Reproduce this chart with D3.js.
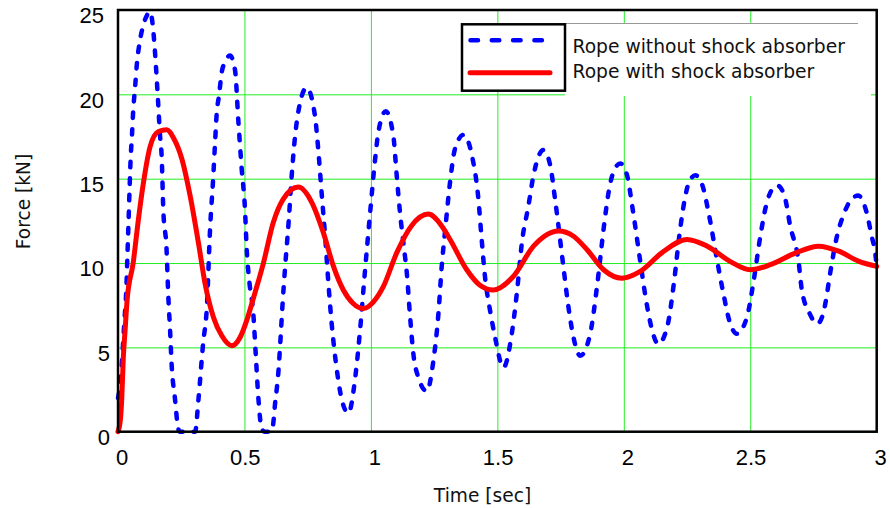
<!DOCTYPE html>
<html>
<head>
<meta charset="utf-8">
<script src="https://cdn.jsdelivr.net/npm/d3@7"></script>
<style>
  html, body { margin: 0; padding: 0; background: #fff; }
  svg { display: block; }
</style>
</head>
<body>
<svg id="chart" width="890" height="508"></svg>
<script>
// ---- data ----
const seriesNames = ["Rope without shock absorber", "Rope with shock absorber"];
const xTicks = [0, 0.5, 1, 1.5, 2, 2.5, 3];
const yTicks = [0, 5, 10, 15, 20, 25];
const xTitle = "Time [sec]";
const yTitle = "Force [kN]";

const noAbsorberTime = [
  0, 0.01, 0.025, 0.033, 0.038, 0.042, 0.046, 0.05, 0.055, 0.06, 0.068, 0.074, 0.087, 0.1, 0.115, 0.127,
  0.14, 0.149, 0.158, 0.166, 0.173, 0.179, 0.192, 0.199, 0.206, 0.212, 0.225, 0.238, 0.245, 0.305,
  0.318, 0.337, 0.351, 0.364, 0.377, 0.384, 0.39, 0.4, 0.41, 0.423, 0.443,
  0.463, 0.476, 0.489, 0.502, 0.509, 0.52, 0.535, 0.545, 0.555, 0.568, 0.58, 0.605,
  0.614, 0.62, 0.634, 0.643, 0.65, 0.66, 0.675, 0.686, 0.7, 0.72, 0.746,
  0.779, 0.792, 0.806, 0.819, 0.832, 0.845, 0.865, 0.885, 0.911,
  0.938, 0.957, 0.977, 0.997, 1.017, 1.03, 1.059,
  1.089, 1.102, 1.115, 1.13, 1.142, 1.155, 1.168, 1.188, 1.221,
  1.247, 1.267, 1.28, 1.294, 1.313, 1.333, 1.366,
  1.399, 1.425, 1.438, 1.451, 1.471, 1.491, 1.524,
  1.557, 1.577, 1.597, 1.623, 1.643, 1.682,
  1.709, 1.728, 1.761, 1.781, 1.801, 1.828,
  1.867, 1.894, 1.92, 1.94, 1.959, 1.986,
  2.013, 2.034, 2.067, 2.088, 2.109, 2.136,
  2.173, 2.198, 2.221, 2.24, 2.258, 2.283,
  2.313, 2.335, 2.372, 2.395, 2.417, 2.447,
  2.487, 2.514, 2.54, 2.561, 2.58, 2.607,
  2.635, 2.658, 2.691, 2.704, 2.735, 2.765,
  2.784, 2.797, 2.816, 2.843, 2.87, 2.896, 2.927,
  2.96, 2.98, 2.995, 3.0
];
const noAbsorberForce = [
  2.0, 3.0, 6.5, 8.5, 10.8, 12.6, 14.5, 16.2, 17.5, 19.0, 20.5, 21.7, 23.2, 24.1, 24.7, 24.9,
  23.7, 21.9, 19.7, 17.6, 16.2, 13.2, 10.8, 8.0, 6.0, 4.0, 2.0, 0.2, 0, 0,
  1.9, 5.3, 7.3, 12.0, 15.2, 17.2, 18.8, 20.0, 21.3, 21.9, 22.3,
  21.4, 18.4, 15.6, 13.2, 10.8, 8.8, 7.0, 4.5, 2.0, 0.2, 0, 0,
  0.5, 1.5, 3.5, 5.6, 7.4, 9.6, 12.5, 15.0, 17.5, 19.5, 20.4,
  18.7, 16.7, 14.0, 11.6, 8.8, 6.4, 3.7, 1.9, 1.1,
  3.2, 6.0, 9.6, 13.0, 16.2, 17.8, 19.0,
  17.5, 15.2, 13.0, 11.0, 9.4, 6.8, 4.6, 3.2, 2.4,
  4.2, 7.0, 9.8, 12.0, 14.8, 16.8, 17.6,
  16.4, 13.8, 11.4, 9.2, 7.2, 5.6, 3.8,
  5.8, 8.2, 11.2, 13.4, 15.2, 16.7,
  15.8, 13.8, 9.8, 7.4, 5.6, 4.5,
  5.8, 8.6, 12.0, 14.2, 15.4, 15.9,
  15.2, 13.3, 9.9, 7.8, 6.2, 5.2,
  6.3, 8.8, 11.8, 13.7, 14.8, 15.2,
  14.5, 13.0, 9.9, 8.1, 6.6, 5.8,
  6.8, 9.0, 11.6, 13.3, 14.2, 14.6,
  14.0, 12.2, 10.1, 8.4, 7.0, 6.4,
  6.8, 7.6, 9.4, 11.6, 12.9, 13.7, 14.0,
  13.0, 11.6, 10.5, 9.8
];

const absorberTime = [
  0, 0.01, 0.015, 0.021, 0.028, 0.036, 0.06, 0.08, 0.1, 0.127, 0.16, 0.193, 0.22, 0.252, 0.285, 0.318,
  0.344, 0.377, 0.41, 0.45, 0.483, 0.509, 0.535, 0.575, 0.614, 0.654, 0.713, 0.766, 0.812, 0.852,
  0.891, 0.93, 0.97, 1.01, 1.049, 1.102, 1.16, 1.227, 1.28, 1.313, 1.379, 1.43, 1.484, 1.563,
  1.643, 1.742, 1.8, 1.854, 1.92, 1.992, 2.065, 2.15, 2.25, 2.33, 2.42, 2.5, 2.58, 2.68, 2.77,
  2.85, 2.93, 3.0
];
const absorberForce = [
  0, 0.8, 2.0, 4.4, 6.0, 7.8, 10.0, 12.5, 14.7, 16.9, 17.8, 17.9, 17.4, 16.2, 14.0, 11.2,
  8.8, 6.8, 5.7, 5.1, 5.6, 6.6, 7.9, 10.0, 12.4, 13.8, 14.5, 13.6, 11.8, 9.8,
  8.4, 7.6, 7.3, 7.7, 8.6, 10.6, 12.2, 12.9, 12.2, 11.4, 9.6, 8.7, 8.4, 9.2,
  11.0, 11.9, 11.6, 10.8, 9.6, 9.1, 9.5, 10.6, 11.4, 11.0, 10.1, 9.6, 9.9, 10.6, 11.0,
  10.7, 10.1, 9.8
];

// ---- layout ----
const svg = d3.select("#chart");
const plot = { left: 118, right: 876.7, top: 10, bottom: 431.7 };
const x = d3.scaleLinear().domain([0, 3]).range([plot.left, plot.right]);
const y = d3.scaleLinear().domain([0, 25]).range([plot.bottom, plot.top]);

const tickFont = "'Liberation Sans', Arial, sans-serif";
const textFont = "'DejaVu Sans', Verdana, sans-serif";
const grid = "#22ee22";

// gridlines via axes
svg.append("g")
  .attr("transform", `translate(0,${plot.bottom})`)
  .call(d3.axisBottom(x).tickValues(xTicks).tickSize(-(plot.bottom - plot.top)).tickFormat(""))
  .call(g => g.select(".domain").remove())
  .call(g => g.selectAll("line").attr("stroke", grid).attr("stroke-width", 1));
svg.append("g")
  .attr("transform", `translate(${plot.left},0)`)
  .call(d3.axisLeft(y).tickValues(yTicks).tickSize(-(plot.right - plot.left)).tickFormat(""))
  .call(g => g.select(".domain").remove())
  .call(g => g.selectAll("line").attr("stroke", grid).attr("stroke-width", 1));

// tick labels
svg.append("g").selectAll("text").data(xTicks).join("text")
  .attr("x", d => x(d) + (Number.isInteger(d) ? 4 : 0.8))
  .attr("y", 465)
  .attr("text-anchor", "middle")
  .attr("font-family", tickFont).attr("font-size", 22).attr("fill", "#000")
  .text(d => String(d));
svg.append("g").selectAll("text").data(yTicks).join("text")
  .attr("x", d => String(d).length === 1 ? 110 : 104)
  .attr("y", d => y(d) + 5.5)
  .attr("dy", "0.36em")
  .attr("text-anchor", "end")
  .attr("font-family", tickFont).attr("font-size", 22).attr("fill", "#000")
  .text(d => String(d));

// axis titles
svg.append("text")
  .attr("x", 482.5).attr("y", 502)
  .attr("text-anchor", "middle")
  .attr("font-family", textFont).attr("font-size", 18.6).attr("fill", "#111")
  .text(xTitle);
svg.append("text")
  .attr("transform", "translate(30,201.5) rotate(-90)")
  .attr("text-anchor", "middle")
  .attr("font-family", textFont).attr("font-size", 18.6).attr("fill", "#111")
  .text(yTitle);

// white patch at the right of the legend (covers grid)
svg.append("rect")
  .attr("x", 565).attr("y", 23).attr("width", 871 - 565).attr("height", 96 - 23)
  .attr("fill", "#fff");
svg.append("line")
  .attr("x1", 565).attr("x2", 858).attr("y1", 23.5).attr("y2", 23.5)
  .attr("stroke", "#999").attr("stroke-width", 1);

// curves
const blueData = noAbsorberTime.map((t, i) => [t, noAbsorberForce[i]]);
const redData = absorberTime.map((t, i) => [t, absorberForce[i]]);
const line = d3.line().x(d => x(d[0])).y(d => y(d[1])).curve(d3.curveMonotoneX);

svg.append("path")
  .datum(blueData)
  .attr("d", line)
  .attr("fill", "none")
  .attr("stroke", "#0000ff")
  .attr("stroke-width", 4.5)
  .attr("stroke-linecap", "round")
  .attr("stroke-linejoin", "round")
  .attr("stroke-dasharray", "5.5 11");

svg.append("path")
  .datum(redData)
  .attr("d", line)
  .attr("fill", "none")
  .attr("stroke", "#ff0000")
  .attr("stroke-width", 5)
  .attr("stroke-linejoin", "round")
  .attr("stroke-linecap", "round");

// frame
svg.append("rect")
  .attr("x", plot.left).attr("y", plot.top)
  .attr("width", plot.right - plot.left).attr("height", plot.bottom - plot.top)
  .attr("fill", "none").attr("stroke", "#000").attr("stroke-width", 2.5);

// legend
const lg = svg.append("g");
lg.append("rect")
  .attr("x", 462).attr("y", 24.3).attr("width", 565 - 462).attr("height", 90.7 - 24.3)
  .attr("fill", "#fff").attr("stroke", "#000").attr("stroke-width", 2.5);
lg.append("line")
  .attr("x1", 470.5).attr("x2", 542.8).attr("y1", 40.3).attr("y2", 40.3)
  .attr("stroke", "#0000ff").attr("stroke-width", 4.5)
  .attr("stroke-linecap", "round").attr("stroke-dasharray", "7.5 13.8");
lg.append("line")
  .attr("x1", 470).attr("x2", 550).attr("y1", 72.7).attr("y2", 72.7)
  .attr("stroke", "#ff0000").attr("stroke-width", 5)
  .attr("stroke-linecap", "round");
lg.selectAll("text.lt").data(seriesNames).join("text")
  .attr("class", "lt")
  .attr("x", 572.5)
  .attr("y", (d, i) => i === 0 ? 53 : 78.3)
  .attr("font-family", textFont).attr("font-size", 18.7).attr("fill", "#111")
  .text(d => d);
</script>
</body>
</html>
